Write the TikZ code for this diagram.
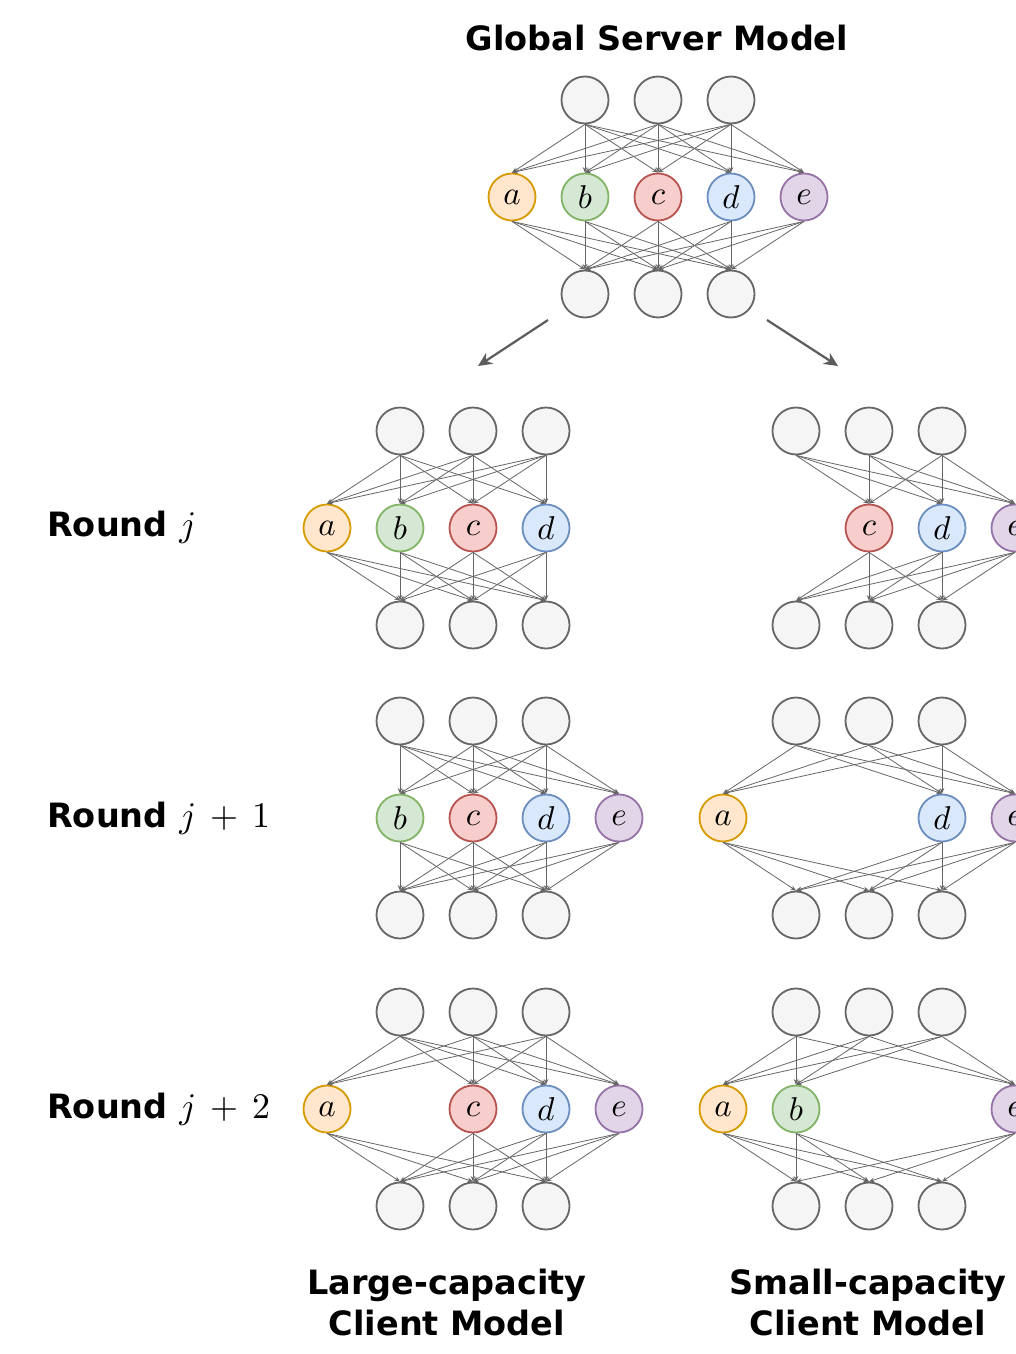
\documentclass[tikz,border=0pt]{standalone}
\usepackage{graphicx}
\usepackage{fontspec}
\setsansfont{DejaVu Sans}
\usetikzlibrary{arrows.meta}
\definecolor{gstroke}{HTML}{666666}
\definecolor{gfill}{HTML}{F5F5F5}
\definecolor{edgec}{HTML}{666666}
\definecolor{afill}{HTML}{FFE6CC}\definecolor{aline}{HTML}{D79B00}
\definecolor{bfill}{HTML}{D5E8D4}\definecolor{bline}{HTML}{82B366}
\definecolor{cfill}{HTML}{F8CECC}\definecolor{cline}{HTML}{B85450}
\definecolor{dfill}{HTML}{DAE8FC}\definecolor{dline}{HTML}{6C8EBF}
\definecolor{efill}{HTML}{E1D5E7}\definecolor{eline}{HTML}{9673A6}
\newcommand\scaledmath[2]{\scalebox{#1}{\fontsize{10}{12}\selectfont$#2$}}
\tikzset{
  gnode/.style={circle, draw=gstroke, fill=gfill, line width=1.8pt, minimum size=47pt, inner sep=0pt},
  hid/.style={circle, draw=#1line, fill=#1fill, line width=1.8pt, minimum size=47pt, inner sep=0pt},
  edgeln/.style={draw=edgec, line width=0.8pt, -{Stealth[length=5.5pt,width=4.5pt]}},
  bigarrow/.style={draw=edgec!90!black, line width=2.2pt, -{Stealth[length=14pt,width=13pt]}},
  lbl/.style={font=\sffamily\bfseries\fontsize{33.5}{41}\selectfont, inner sep=0pt},
}
\newcommand\netw[4]{%
  \foreach \i in {1,2,3} {
    \node[gnode] (#1in\i) at ({#2+(\i-1)*73},#3) {};
    \node[gnode] (#1out\i) at ({#2+(\i-1)*73},{#3+194}) {};
  }
  \foreach \h/\k in {#4} {
    \node[hid=\h] (#1h\h) at ({#2+(\k-1)*73},{#3+97}) {\scaledmath{3.3}{\h}};
    \foreach \i in {1,2,3} {
      \draw[edgeln] (#1in\i.south) -- (#1h\h.north);
      \draw[edgeln] (#1h\h.south) -- (#1out\i.north);
    }
  }
}
\begin{document}
\begin{tikzpicture}[x=1pt,y=-1pt]
\useasboundingbox[fill=white] (0,0) rectangle (1015,1354);
\node[lbl] (title) at (657,38) {Global Server Model};
\netw{g}{585}{100}{a/0,b/1,c/2,d/3,e/4}
% arrows
\coordinate (s1) at (548,320); \coordinate (t1) at (478,366);
\coordinate (s2) at (767,320); \coordinate (t2) at (838,366);
\draw[bigarrow] (s1) -- (t1);
\draw[bigarrow] (s2) -- (t2);
% large-capacity column
\netw{la}{400}{431}{a/0,b/1,c/2,d/3}
\netw{lb}{400}{721}{b/1,c/2,d/3,e/4}
\netw{lc}{400}{1012}{a/0,c/2,d/3,e/4}
% small-capacity column
\netw{sa}{796}{431}{c/2,d/3,e/4}
\netw{sb}{796}{721}{a/0,d/3,e/4}
\netw{sc}{796}{1012}{a/0,b/1,e/4}
% round labels
\node[lbl, anchor=west] (r1) at (47,527) {Round \scaledmath{3.6}{j}};
\node[lbl, anchor=west] (r2) at (47,818) {Round \scaledmath{3.6}{j\mkern3mu+\mkern3mu1}};
\node[lbl, anchor=west] (r3) at (47,1109) {Round \scaledmath{3.6}{j\mkern3mu+\mkern3mu2}};
% bottom labels
\node[lbl, align=center] (large) at (447,1302) {Large-capacity\\Client Model};
\node[lbl, align=center] (small) at (868,1302) {Small-capacity\\Client Model};
\end{tikzpicture}
\end{document}
